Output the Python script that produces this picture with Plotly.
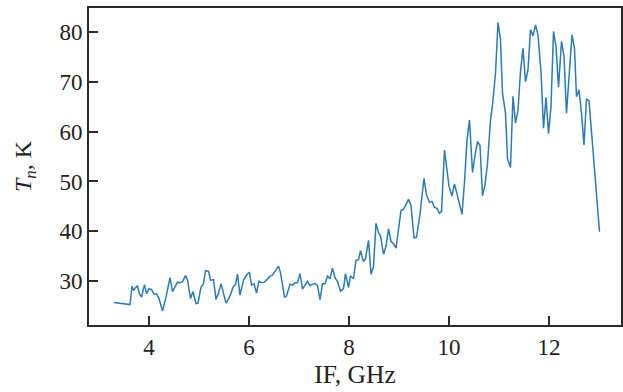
import plotly.graph_objects as go

freq_ghz = [
    3.30, 3.62, 3.66, 3.69, 3.73, 3.77, 3.81, 3.85, 3.91, 3.95,
    4.00, 4.05, 4.10, 4.15, 4.20, 4.27, 4.34, 4.42, 4.47, 4.53,
    4.57, 4.62, 4.67, 4.73, 4.77, 4.83, 4.88, 4.94, 4.98, 5.04,
    5.09, 5.13, 5.19, 5.23, 5.29, 5.34, 5.39, 5.44, 5.49, 5.54,
    5.61, 5.69, 5.73, 5.77, 5.82, 5.89, 5.97, 6.01, 6.05, 6.10,
    6.15, 6.20, 6.25, 6.31, 6.35, 6.42, 6.47, 6.53, 6.59, 6.63,
    6.71, 6.75, 6.82, 6.87, 6.92, 6.97, 7.02, 7.07, 7.12, 7.17,
    7.22, 7.27, 7.32, 7.37, 7.42, 7.47, 7.52, 7.57, 7.62, 7.67,
    7.72, 7.77, 7.83, 7.89, 7.93, 7.99, 8.03, 8.09, 8.14, 8.19,
    8.23, 8.29, 8.33, 8.39, 8.44, 8.49, 8.54, 8.59, 8.63, 8.69,
    8.74, 8.79, 8.84, 8.89, 8.94, 8.99, 9.04, 9.09, 9.14, 9.19,
    9.24, 9.30, 9.35, 9.42, 9.50, 9.55, 9.61, 9.66, 9.71, 9.76,
    9.81, 9.85, 9.91, 9.95, 10.00, 10.06, 10.11, 10.16, 10.21, 10.26,
    10.31, 10.36, 10.41, 10.47, 10.52, 10.57, 10.62, 10.67, 10.72, 10.77,
    10.83, 10.87, 10.93, 10.98, 11.03, 11.07, 11.13, 11.17, 11.23, 11.28,
    11.33, 11.38, 11.43, 11.48, 11.53, 11.58, 11.63, 11.68, 11.73, 11.78,
    11.84, 11.89, 11.94, 11.99, 12.04, 12.09, 12.14, 12.19, 12.25, 12.30,
    12.35, 12.41, 12.46, 12.51, 12.55, 12.60, 12.65, 12.70, 12.75, 12.80,
    13.01,
]

noise_temp_k = [
    25.7, 25.3, 29.0, 28.1, 28.7, 29.0, 27.5, 26.8, 29.3, 27.5,
    28.5, 28.3, 27.4, 27.4, 26.5, 24.0, 26.8, 30.7, 27.9, 29.0,
    29.8, 29.7, 29.9, 31.1, 30.3, 26.5, 27.9, 25.5, 25.6, 28.8,
    29.5, 32.1, 32.0, 30.2, 30.3, 26.3, 27.6, 29.5, 27.5, 25.6,
    26.8, 29.0, 29.3, 31.4, 27.2, 30.2, 31.5, 31.7, 29.2, 29.5,
    27.6, 30.0, 29.7, 29.8, 30.2, 31.0, 31.2, 32.1, 33.0, 31.7,
    26.8, 27.0, 29.4, 29.2, 29.7, 29.7, 31.5, 28.4, 29.2, 30.0,
    29.1, 29.4, 29.5, 29.1, 26.3, 29.5, 29.5, 31.0, 30.5, 32.6,
    30.7, 29.9, 28.0, 28.5, 31.5, 28.7, 31.0, 30.5, 34.2, 34.3,
    36.1, 33.9, 34.5, 38.2, 31.4, 32.9, 41.6, 39.7, 39.1, 35.4,
    37.0, 40.5, 38.0, 37.5, 36.6, 40.2, 44.2, 44.4, 45.3, 46.4,
    45.2, 38.7, 38.8, 43.5, 50.6, 47.3, 45.8, 46.0, 44.8, 44.6,
    43.6, 44.0, 56.3, 52.7, 49.0, 47.1, 49.5, 47.5, 45.5, 43.4,
    49.9, 58.3, 62.3, 51.8, 55.2, 58.0, 57.2, 47.1, 49.3, 53.6,
    62.3, 65.3, 71.7, 81.9, 78.4, 67.7, 63.7, 54.6, 52.8, 67.1,
    61.7, 64.3, 72.0, 76.7, 70.0, 72.4, 80.5, 79.2, 81.4, 79.4,
    72.0, 60.7, 66.9, 59.6, 65.0, 80.1, 77.1, 68.9, 78.1, 75.1,
    63.7, 73.0, 79.4, 76.7, 67.0, 68.4, 63.7, 57.3, 66.5, 66.2,
    39.9,
]

x_ticks = [4, 6, 8, 10, 12]
y_ticks = [30, 40, 50, 60, 70, 80]

font_family = "'Liberation Serif', 'Times New Roman', Times, serif"
fsize = 23
text_color = "#222222"
axis_color = "#2b2b2b"

fig = go.Figure()
fig.add_trace(go.Scatter(
    x=freq_ghz, y=noise_temp_k, mode="lines",
    line=dict(color="#2a7bb6", width=1.5),
    showlegend=False,
))

fig.update_layout(
    width=623, height=392,
    margin=dict(l=89, r=2, t=8, b=67, autoexpand=False),
    paper_bgcolor="white", plot_bgcolor="white",
    font=dict(family=font_family, size=fsize, color=text_color),
)
fig.update_xaxes(
    range=[2.8, 13.44], tickvals=x_ticks, ticktext=[str(v) for v in x_ticks],
    ticks="inside", ticklen=9, tickwidth=1.5, tickcolor=axis_color,
    showline=True, linecolor=axis_color, linewidth=2, mirror=True,
    showgrid=False, zeroline=False,
    tickfont=dict(family=font_family, size=fsize, color=text_color),
    title=dict(text="IF, GHz", font=dict(family=font_family, size=25.5, color=text_color), standoff=6),
)
fig.update_yaxes(
    range=[21.2, 84.8], tickvals=y_ticks, ticktext=[str(v) for v in y_ticks],
    ticks="inside", ticklen=9, tickwidth=1.5, tickcolor=axis_color,
    showline=True, linecolor=axis_color, linewidth=2, mirror=True,
    showgrid=False, zeroline=False,
    tickfont=dict(family=font_family, size=fsize, color=text_color),
    title=dict(text="<i>T</i><sub><i>n</i></sub>, K", font=dict(family=font_family, size=24, color=text_color), standoff=21),
)

fig.write_html("out.html")
